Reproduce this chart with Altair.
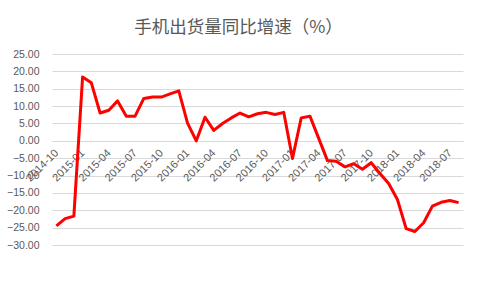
import altair as alt
import pandas as pd

months = [
    "2014-10", "2014-11", "2014-12",
    "2015-01", "2015-02", "2015-03", "2015-04", "2015-05", "2015-06",
    "2015-07", "2015-08", "2015-09", "2015-10", "2015-11", "2015-12",
    "2016-01", "2016-02", "2016-03", "2016-04", "2016-05", "2016-06",
    "2016-07", "2016-08", "2016-09", "2016-10", "2016-11", "2016-12",
    "2017-01", "2017-02", "2017-03", "2017-04", "2017-05", "2017-06",
    "2017-07", "2017-08", "2017-09", "2017-10", "2017-11", "2017-12",
    "2018-01", "2018-02", "2018-03", "2018-04", "2018-05", "2018-06",
    "2018-07", "2018-08",
]
growth = [
    -24.5, -22.4, -21.7,
    18.4, 16.7, 8.0, 8.8, 11.5, 7.1,
    7.1, 12.2, 12.6, 12.6, 13.5, 14.4,
    5.1, 0.0, 6.8, 3.0, 5.0, 6.6,
    8.0, 6.9, 7.8, 8.2, 7.6, 8.2,
    -5.1, 6.6, 7.1, 0.7, -5.7, -5.9,
    -7.5, -6.6, -8.2, -6.3, -9.4, -12.3,
    -16.9, -25.3, -26.1, -23.6, -18.8, -17.7,
    -17.2, -17.8,
]
tick_labels = [
    "2014-10", "2015-01", "2015-04", "2015-07", "2015-10", "2016-01",
    "2016-04", "2016-07", "2016-10", "2017-01", "2017-04", "2017-07",
    "2017-10", "2018-01", "2018-04", "2018-07",
]
y_ticks = [-30, -25, -20, -15, -10, -5, 0, 5, 10, 15, 20, 25]

df = pd.DataFrame({"month": months, "growth": growth})

grey = "#595959"
gridc = "#d9d9d9"

chart = alt.Chart(df).mark_line(
    color="#FF0000", strokeWidth=3, strokeJoin="round"
).encode(
    x=alt.X(
        "month:O",
        sort=months,
        scale=alt.Scale(type="point", padding=0.5),
        axis=alt.Axis(
            values=tick_labels,
            labelAngle=-45,
            labelAlign="right",
            labelBaseline="middle",
            title=None,
            ticks=False,
            grid=False,
            domainColor=gridc,
            labelColor=grey,
            labelFont="Liberation Sans",
            labelFontSize=11,
            labelPadding=10,
            offset=-104,
        ),
    ),
    y=alt.Y(
        "growth:Q",
        scale=alt.Scale(domain=[-30, 25], nice=False, zero=False),
        axis=alt.Axis(
            values=y_ticks,
            format=".2f",
            title=None,
            domain=False,
            ticks=False,
            gridColor=gridc,
            labelColor=grey,
            labelFont="Liberation Sans",
            labelFontSize=10.5,
            labelPadding=13,
        ),
    ),
).properties(
    width=411,
    height=191,
    title=alt.TitleParams(
        "手机出货量同比增速（%）",
        font="Noto Sans CJK SC",
        fontSize=17.5,
        fontWeight="normal",
        color=grey,
        anchor="middle",
        dx=-19,
        offset=13,
    ),
    autosize=alt.AutoSizeParams(type="none"),
    padding={"left": 52, "top": 54, "right": 15, "bottom": 52},
    background="white",
).configure_view(stroke=None)

chart.save("out.html", embed_options={"renderer": "svg", "actions": False})
